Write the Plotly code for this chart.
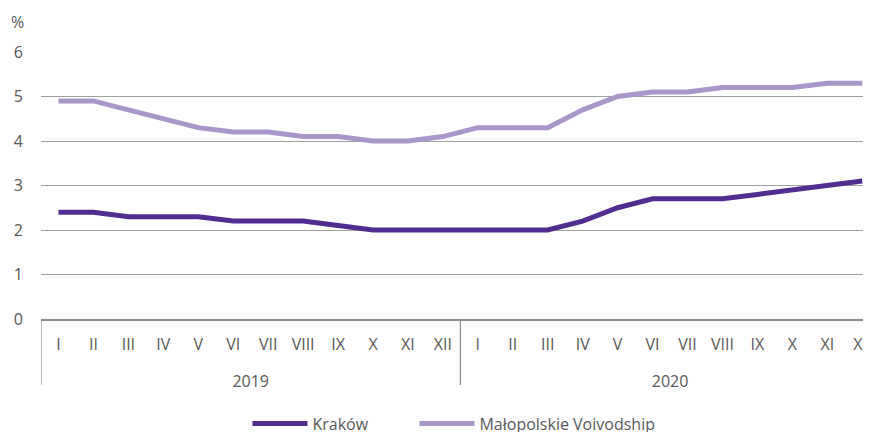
import plotly.graph_objects as go

years = ["2019"] * 12 + ["2020"] * 12
months = ["I", "II", "III", "IV", "V", "VI", "VII", "VIII", "IX", "X", "XI", "XII"] * 2

krakow = [2.4, 2.4, 2.3, 2.3, 2.3, 2.2, 2.2, 2.2, 2.1, 2.0, 2.0, 2.0,
          2.0, 2.0, 2.0, 2.2, 2.5, 2.7, 2.7, 2.7, 2.8, 2.9, 3.0, 3.1]
malopolska = [4.9, 4.9, 4.7, 4.5, 4.3, 4.2, 4.2, 4.1, 4.1, 4.0, 4.0, 4.1,
              4.3, 4.3, 4.3, 4.7, 5.0, 5.1, 5.1, 5.2, 5.2, 5.2, 5.3, 5.3]

FONT = "Open Sans"
TXT = "#595959"
AX = "#8c8c8c"

idx = list(range(len(months)))
year_names = sorted(set(years))
year_centers = [sum(i for i in idx if years[i] == y) / years.count(y) for y in year_names]
year_starts = [min(i for i in idx if years[i] == y) - 0.5 for y in year_names]

W, H = 863, 424
ML, MT, MB = 33, 44, 64
plot_h = 267
paper_h = H - MT - MB
dom0 = 1 - plot_h / paper_h

fig = go.Figure()
fig.add_trace(go.Scatter(x=idx, y=krakow, mode="lines", name="Kraków",
                         line=dict(color="#4F2D91", width=5), legend="legend"))
fig.add_trace(go.Scatter(x=idx, y=malopolska, mode="lines",
                         name="Małopolskie Voivodship",
                         line=dict(color="#A898C9", width=5), legend="legend2"))
# invisible trace carrying the year axis
fig.add_trace(go.Scatter(x=year_centers, y=[None] * len(year_centers), xaxis="x2",
                         showlegend=False, hoverinfo="skip"))

xr = [-0.5, len(months) - 0.75]

shapes = []
for s in year_starts:
    shapes.append(dict(type="line", xref="x", yref="paper", x0=s, x1=s,
                       y0=dom0, y1=dom0 - 66 / paper_h,
                       line=dict(color=AX, width=1.2)))

leg_common = dict(orientation="h", xanchor="left", xref="container",
                  y=0.02, yanchor="middle", yref="container",
                  font=dict(family=FONT, size=16, color=TXT), itemwidth=55,
                  bgcolor="rgba(0,0,0,0)")

fig.update_layout(
    width=W, height=H,
    margin=dict(l=ML, r=0, t=MT, b=MB, autoexpand=False),
    paper_bgcolor="white", plot_bgcolor="white",
    font=dict(family=FONT, size=16, color=TXT),
    showlegend=True,
    legend=dict(x=0.2775, **leg_common),
    legend2=dict(x=0.471, **leg_common),
    annotations=[dict(text="%", xref="x domain", yref="y domain", x=-24 / 830,
                      y=1 + 30 / plot_h, xanchor="center", yanchor="middle",
                      showarrow=False, font=dict(family=FONT, size=16, color=TXT))],
    shapes=shapes,
    xaxis=dict(range=xr, tickvals=idx, ticktext=months, showgrid=False,
               automargin=False, showline=True, linecolor=AX, linewidth=1.5,
               zeroline=False, ticks="", ticklabelstandoff=10,
               ticklabeloverflow="allow",
               tickfont=dict(family=FONT, size=16, color=TXT)),
    xaxis2=dict(range=xr, overlaying="x", anchor="free", position=0, side="bottom",
                tickvals=year_centers, ticktext=year_names, showgrid=False,
                showline=False, zeroline=False, ticks="", automargin=False,
                ticklabelstandoff=2,
                tickfont=dict(family=FONT, size=16, color=TXT)),
    yaxis=dict(domain=[dom0, 1], range=[0, 6], dtick=1, showgrid=True,
               gridcolor="#a0a0a0", gridwidth=1.2, zeroline=False, showline=False,
               ticks="", automargin=False, ticklabelstandoff=17,
               tickfont=dict(family=FONT, size=16, color=TXT)),
)

fig.write_html("out.html")
